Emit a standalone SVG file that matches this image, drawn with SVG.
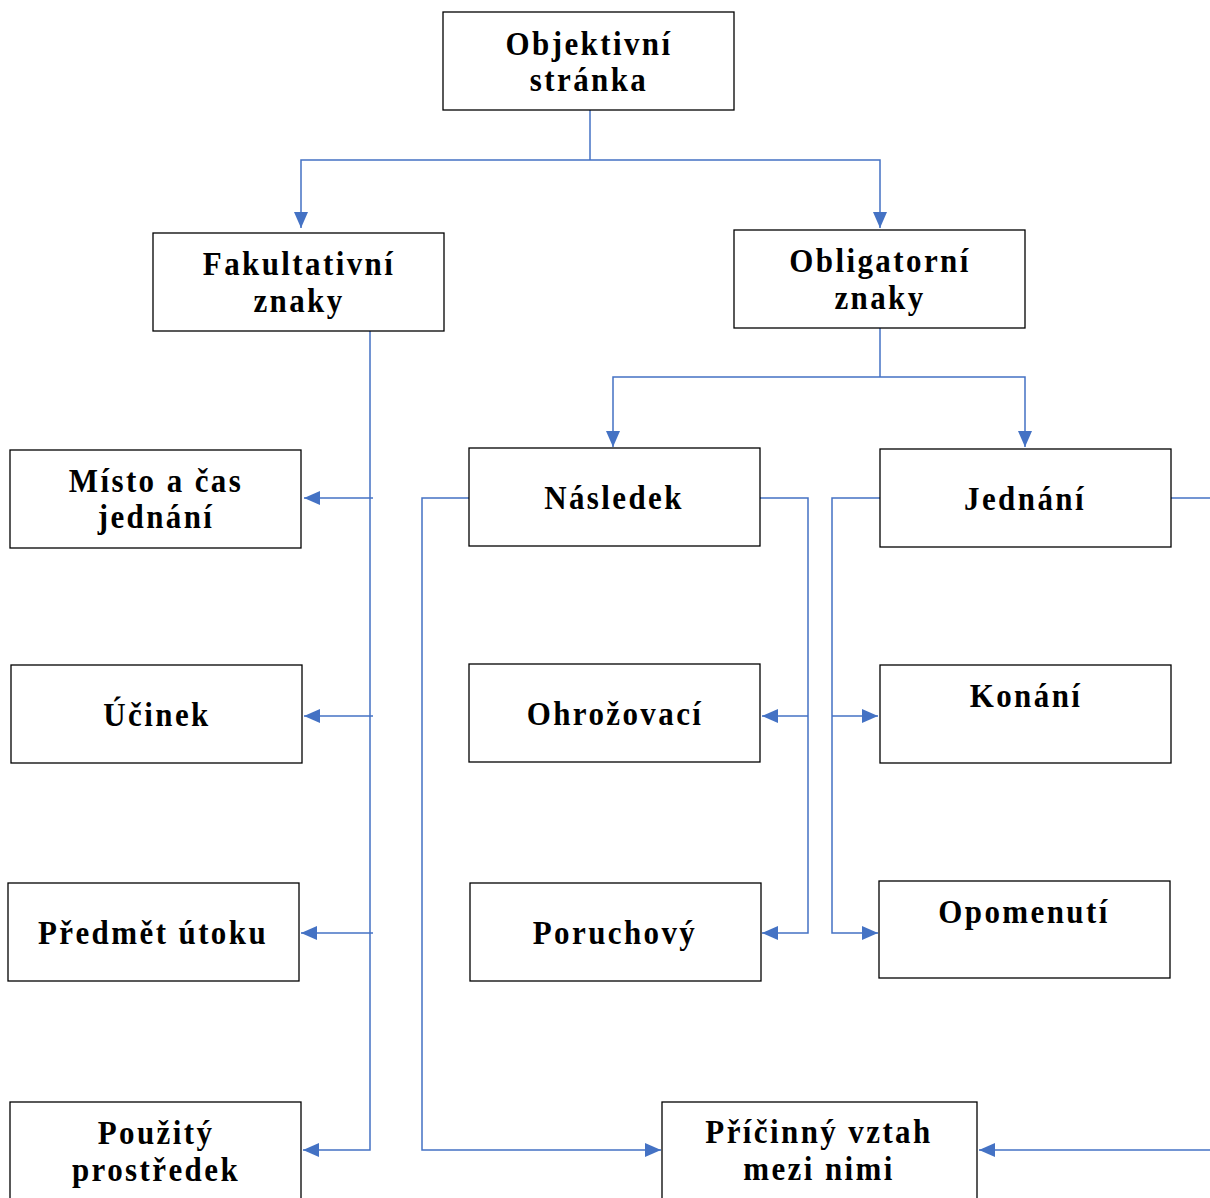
<svg xmlns="http://www.w3.org/2000/svg" width="1210" height="1198" viewBox="0 0 1210 1198">
  <style>
    .box { fill: #ffffff; stroke: #000000; stroke-width: 1.3; }
    .lbl { font-family: "Liberation Serif", "Times New Roman", serif; font-weight: bold; font-size: 31px; letter-spacing: 2.4px; text-anchor: middle; fill: #000000; }
    .wire { fill: none; stroke: #4472C4; stroke-width: 1.5; }
    .arr { marker-end: url(#head); }
  </style>
  <defs>
    <marker id="head" markerUnits="userSpaceOnUse" markerWidth="16" markerHeight="14" refX="16" refY="7" orient="auto">
      <path d="M0,0 L16,7 L0,14 Z" fill="#4472C4"/>
    </marker>
  </defs>
  <rect width="1210" height="1198" fill="#ffffff"/>

  <g id="connectors">
    <path class="wire" d="M590,110 V160"/>
    <path class="wire arr" d="M590,160 H301 V228"/>
    <path class="wire arr" d="M590,160 H880 V228"/>

    <path class="wire arr" d="M370,331 V1150 H303"/>
    <path class="wire arr" d="M373,498 H304"/>
    <path class="wire arr" d="M373,716 H304"/>
    <path class="wire arr" d="M373,933 H301"/>

    <path class="wire" d="M880,328 V377"/>
    <path class="wire arr" d="M880,377 H613 V447"/>
    <path class="wire arr" d="M880,377 H1025 V447"/>

    <path class="wire arr" d="M469,498 H422 V1150 H661"/>
    <path class="wire arr" d="M760,498 H808 V933 H762"/>
    <path class="wire arr" d="M808,716 H762"/>

    <path class="wire arr" d="M880,498 H832 V933 H878"/>
    <path class="wire arr" d="M832,716 H878"/>
    <path class="wire" d="M1171,498 H1210"/>

    <path class="wire arr" d="M1210,1150 H979"/>
  </g>

  <!-- labels are drawn slightly tall: scale(1 1.1) about each baseline -->
  <g id="objektivni">
    <rect class="box" x="443" y="12" width="291" height="98"/>
    <text class="lbl" transform="translate(589 55) scale(1 1.1)">Objektivní</text>
    <text class="lbl" transform="translate(589 91) scale(1 1.1)">stránka</text>
  </g>
  <g id="fakultativni">
    <rect class="box" x="153" y="233" width="291" height="98"/>
    <text class="lbl" transform="translate(299 275) scale(1 1.1)">Fakultativní</text>
    <text class="lbl" transform="translate(299 312) scale(1 1.1)">znaky</text>
  </g>
  <g id="obligatorni">
    <rect class="box" x="734" y="230" width="291" height="98"/>
    <text class="lbl" transform="translate(880 272) scale(1 1.1)">Obligatorní</text>
    <text class="lbl" transform="translate(880 309) scale(1 1.1)">znaky</text>
  </g>
  <g id="misto">
    <rect class="box" x="10" y="450" width="291" height="98"/>
    <text class="lbl" transform="translate(156 492) scale(1 1.1)">Místo a čas</text>
    <text class="lbl" transform="translate(156 528) scale(1 1.1)">jednání</text>
  </g>
  <g id="ucinek">
    <rect class="box" x="11" y="665" width="291" height="98"/>
    <text class="lbl" transform="translate(157 726) scale(1 1.1)">Účinek</text>
  </g>
  <g id="predmet">
    <rect class="box" x="8" y="883" width="291" height="98"/>
    <text class="lbl" transform="translate(153 944) scale(1 1.1)">Předmět útoku</text>
  </g>
  <g id="pouzity">
    <rect class="box" x="10" y="1102" width="291" height="110"/>
    <text class="lbl" transform="translate(156 1144) scale(1 1.1)">Použitý</text>
    <text class="lbl" transform="translate(156 1181) scale(1 1.1)">prostředek</text>
  </g>
  <g id="nasledek">
    <rect class="box" x="469" y="448" width="291" height="98"/>
    <text class="lbl" transform="translate(614 509) scale(1 1.1)">Následek</text>
  </g>
  <g id="jednani">
    <rect class="box" x="880" y="449" width="291" height="98"/>
    <text class="lbl" transform="translate(1025 510) scale(1 1.1)">Jednání</text>
  </g>
  <g id="ohrozovaci">
    <rect class="box" x="469" y="664" width="291" height="98"/>
    <text class="lbl" transform="translate(615 725) scale(1 1.1)">Ohrožovací</text>
  </g>
  <g id="konani">
    <rect class="box" x="880" y="665" width="291" height="98"/>
    <text class="lbl" transform="translate(1026 707) scale(1 1.1)">Konání</text>
  </g>
  <g id="poruchovy">
    <rect class="box" x="470" y="883" width="291" height="98"/>
    <text class="lbl" transform="translate(615 944) scale(1 1.1)">Poruchový</text>
  </g>
  <g id="opomenuti">
    <rect class="box" x="879" y="881" width="291" height="97"/>
    <text class="lbl" transform="translate(1024 923) scale(1 1.1)">Opomenutí</text>
  </g>
  <g id="pricinny">
    <rect class="box" x="662" y="1102" width="315" height="110"/>
    <text class="lbl" transform="translate(819 1143) scale(1 1.1)">Příčinný vztah</text>
    <text class="lbl" transform="translate(819 1180) scale(1 1.1)">mezi nimi</text>
  </g>
</svg>
